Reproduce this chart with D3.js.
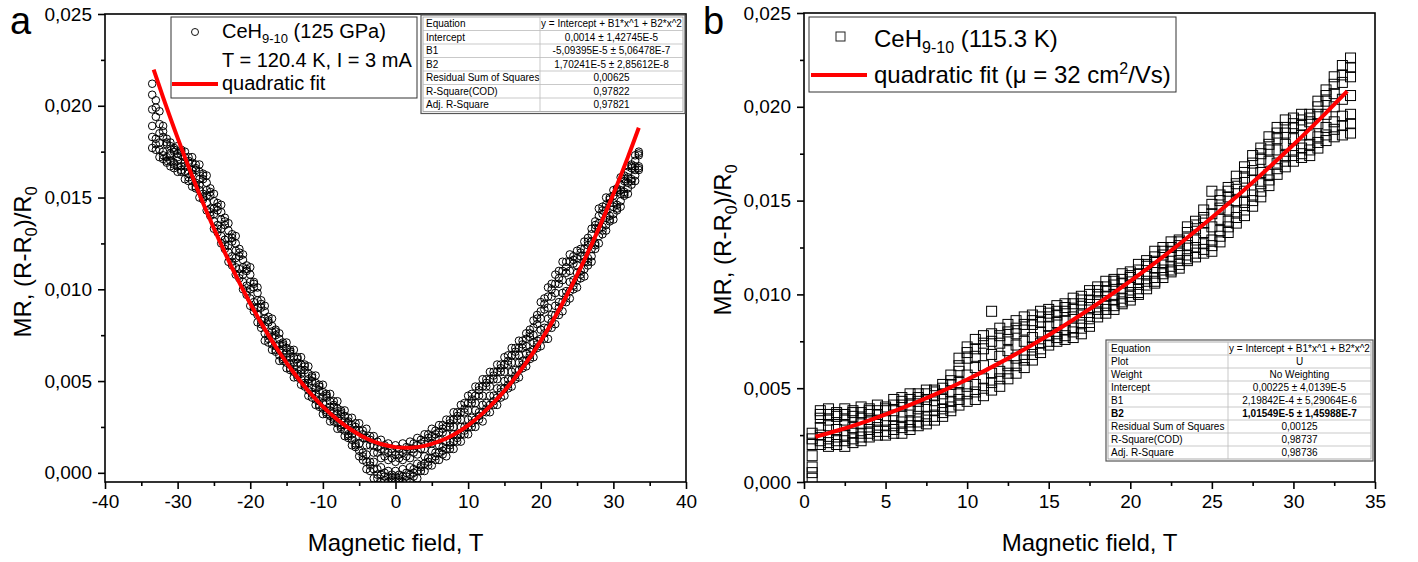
<!DOCTYPE html>
<html>
<head>
<meta charset="utf-8">
<script src="https://cdn.jsdelivr.net/npm/d3@7"></script>
<style>
  body { margin: 0; background: #fff; }
  svg { font-family: "Liberation Sans", Arial, sans-serif; }
</style>
</head>
<body>
<script>
// ---- data (MR values are in units of 1e-3) ----
const MR_UNIT = 1e-3;

// panel a: CeH9-10 at 125 GPa, field sweep -33.5..33.5 T (points read across the band)
const fieldA = [-33.5,-33,-32.5,-32,-31.5,-31,-30.5,-30,-29.5,-29,-28.5,-28,-27.5,-27,-26.5,-26,-25.5,-25,-24.5,-24,
  -23.5,-23,-22.5,-22,-21.5,-21,-20.5,-20,-19.5,-19,-18.5,-18,-17.5,-17,-16.5,-16,-15.5,-15,-14.5,-14,
  -13.5,-13,-12.5,-12,-11.5,-11,-10.5,-10,-9.5,-9,-8.5,-8,-7.5,-7,-6.5,-6,-5.5,-5,-4.5,-4,
  -3.5,-3,-2.5,-2,-1.5,-1,-0.5,0,0.5,1,1.5,2,2.5,3,3.5,4,4.5,5,5.5,6,
  6.5,7,7.5,8,8.5,9,9.5,10,10.5,11,11.5,12,12.5,13,13.5,14,14.5,15,15.5,16,
  16.5,17,17.5,18,18.5,19,19.5,20,20.5,21,21.5,22,22.5,23,23.5,24,24.5,25,25.5,26,
  26.5,27,27.5,28,28.5,29,29.5,30,30.5,31,31.5,32,32.5,33,33.5];
const mrA1 = [21.2,20.3,19.7,18.9,18.2,18.0,17.7,17.8,17.6,17.5, 17.2,17.2,16.8,16.8,16.3,16.2,15.5,15.2,14.7,14.6,
  13.9,13.6,13.0,12.9,12.2,11.9,11.3,11.2,10.4,10.1, 9.4,9.1,8.5,8.4,7.8,7.6,7.1,7.1,6.7,6.7,
  6.3,6.3,5.9,5.8,5.3,5.3,4.8,4.8,4.3,4.3, 3.9,3.9,3.4,3.4,3.0,3.0,2.7,2.7,2.3,2.4,
  2.0,2.0,1.7,1.8,1.5,1.6,1.3,1.5,1.3,1.6, 1.4,1.7,1.6,1.9,1.8,2.1,2.1,2.4,2.3,2.6,
  2.6,2.9,2.9,3.3,3.3,3.7,3.8,4.2,4.3,4.7, 4.7,5.1,5.1,5.5,5.5,5.9,5.9,6.3,6.4,6.8,
  6.8,7.2,7.2,7.6,7.8,8.3,8.6,9.3,9.5,10.1, 10.3,10.8,11.0,11.5,11.5,11.9,11.8,12.1,12.2,12.6,
  12.8,13.3,13.7,14.4,14.5,15.0,15.0,15.4,15.5,16.1, 16.2,16.7,16.8,17.3,17.5];
const mrA5 = [20.6,19.9,19.0,18.6,18.0,17.8,17.6,17.4,17.5,17.2, 17.0,16.9,16.6,16.4,16.2,15.8,15.3,14.8,14.5,14.2,
  13.7,13.2,12.8,12.5,12.0,11.6,11.1,10.8,10.3,9.8, 9.2,8.8,8.3,8.0,7.7,7.3,7.0,6.8,6.6,6.3,
  6.2,5.9,5.8,5.4,5.2,4.9,4.7,4.4,4.2,3.9, 3.7,3.5,3.3,3.1,2.8,2.6,2.5,2.3,2.1,1.9,
  1.8,1.5,1.4,1.3,1.2,1.1,1.1,1.0,1.0,1.1, 1.2,1.3,1.3,1.5,1.6,1.7,1.9,2.0,2.1,2.2,
  2.4,2.5,2.7,2.9,3.1,3.3,3.5,3.8,4.0,4.2, 4.5,4.7,4.9,5.1,5.3,5.5,5.7,5.9,6.1,6.4,
  6.6,6.8,7.0,7.3,7.6,7.9,8.4,8.8,9.2,9.6, 10.0,10.3,10.6,11.0,11.2,11.5,11.6,11.7,12.0,12.2,
  12.6,13.0,13.5,14.0,14.3,14.6,14.9,15.1,15.4,15.7, 16.0,16.4,16.7,17.0,17.4];
const mrA2 = [19.8,19.4,18.5,18.3,17.9,17.4,17.5,17.2,17.3,16.9, 16.9,16.5,16.5,16.0,16.0,15.4,15.1,14.4,14.3,13.8,
  13.5,12.8,12.6,12.1,11.8,11.2,11.0,10.4,10.1,9.4, 9.0,8.4,8.2,7.7,7.5,7.0,6.9,6.5,6.5,6.0,
  6.0,5.6,5.6,5.1,5.0,4.6,4.5,4.1,4.1,3.6, 3.6,3.2,3.2,2.8,2.7,2.3,2.3,2.0,1.9,1.5,
  1.5,1.1,1.1,0.8,0.9,0.7,0.8,0.6,0.8,0.7, 0.9,0.8,1.1,1.0,1.3,1.3,1.6,1.6,1.9,1.8,
  2.2,2.1,2.5,2.5,2.9,2.9,3.3,3.4,3.8,3.8, 4.2,4.2,4.7,4.7,5.1,5.1,5.5,5.5,5.9,6.0,
  6.4,6.4,6.8,6.9,7.4,7.5,8.1,8.4,8.9,9.0, 9.6,9.8,10.3,10.5,10.9,11.0,11.4,11.3,11.8,11.8,
  12.4,12.6,13.3,13.6,14.1,14.3,14.7,14.7,15.3,15.4, 15.9,16.1,16.6,16.7,17.3];
const mrA3 = [18.9,18.2,18.0,17.5,17.2,17.3,16.9,17.0,16.7,16.7, 16.3,16.3,15.8,15.7,15.2,15.1,14.4,14.1,13.5,13.3,
  12.7,12.4,11.8,11.7,11.1,10.8,10.2,10.0,9.3,9.0, 8.3,8.0,7.5,7.4,6.9,6.7,6.3,6.3,5.9,5.8,
  5.4,5.4,4.9,4.9,4.4,4.3,3.9,3.8,3.4,3.4, 3.0,3.0,2.6,2.6,2.1,2.1,1.6,1.6,1.1,1.0,
  0.6,0.6,0.2,0.3,0.0,0.1,-0.1,0.1,-0.1,0.2, 0.0,0.3,0.2,0.5,0.4,0.9,0.8,1.2,1.1,1.5,
  1.4,1.7,1.7,2.1,2.1,2.5,2.5,2.9,3.0,3.4, 3.3,3.7,3.8,4.2,4.2,4.6,4.6,5.0,5.1,5.5,
  5.6,6.0,6.1,6.5,6.6,7.1,7.2,7.8,7.9,8.4, 8.6,9.1,9.3,9.8,9.9,10.4,10.5,10.9,11.0,11.5,
  11.7,12.2,12.5,13.3,13.4,13.9,14.0,14.5,14.6,15.2, 15.3,15.8,16.0,16.5,16.7];
const mrA6 = [18.3,17.9,17.6,17.3,17.0,17.0,16.8,16.7,16.5,16.4, 16.1,15.9,15.6,15.4,15.0,14.7,14.2,13.7,13.3,12.9,
  12.4,12.0,11.5,11.2,10.8,10.4,9.9,9.5,9.0,8.6, 8.1,7.6,7.3,7.0,6.7,6.4,6.2,6.0,5.7,5.5,
  5.3,5.1,4.8,4.5,4.3,4.0,3.7,3.5,3.3,3.1, 2.9,2.7,2.5,2.3,2.0,1.8,1.5,1.2,0.9,0.6,
  0.4,0.2,-0.1,-0.1,-0.2,-0.2,-0.3,-0.2,-0.3,-0.2, -0.2,-0.1,0.0,0.1,0.3,0.5,0.6,0.8,0.9,1.1,
  1.2,1.3,1.5,1.7,1.9,2.1,2.3,2.5,2.7,2.9, 3.1,3.3,3.5,3.7,3.9,4.1,4.4,4.6,4.8,5.1,
  5.3,5.6,5.9,6.1,6.4,6.7,7.0,7.3,7.6,7.9, 8.2,8.6,9.0,9.3,9.6,9.9,10.2,10.5,10.8,11.1,
  11.5,11.8,12.4,12.9,13.2,13.5,13.8,14.1,14.4,14.8, 15.2,15.5,15.9,16.2,16.6];
const mrA4 = [17.7,17.6,17.2,17.1,16.9,16.7,16.6,16.4,16.4,16.0, 15.9,15.6,15.5,15.0,14.9,14.3,14.0,13.3,13.1,12.5,
  12.2,11.5,11.3,10.8,10.6,10.0,9.7,9.1,8.8,8.2, 7.9,7.2,7.1,6.7,6.6,6.1,6.1,5.7,5.6,5.2,
  5.2,4.8,4.7,4.2,4.1,3.7,3.6,3.2,3.2,2.8, 2.8,2.4,2.4,2.0,1.9,1.5,1.4,0.9,0.7,0.2,
  0.1,-0.3,-0.3,-0.5,-0.4,-0.5,-0.4,-0.5,-0.4,-0.5, -0.4,-0.5,-0.2,-0.3,0.1,0.1,0.4,0.4,0.7,0.7,
  1.0,0.9,1.3,1.3,1.7,1.7,2.1,2.1,2.5,2.5, 2.9,2.8,3.3,3.3,3.7,3.7,4.1,4.2,4.6,4.7,
  5.1,5.2,5.7,5.8,6.2,6.3,6.8,6.9,7.3,7.3, 7.9,8.1,8.6,8.8,9.3,9.5,10.0,10.1,10.6,10.7,
  11.3,11.5,12.2,12.5,13.0,13.2,13.7,13.8,14.3,14.5, 15.1,15.2,15.7,15.9,16.5];

// quadratic fit, panel a
const fitAField = [-33.3,-32,-30,-28,-26,-24,-22,-20,-18,-16,-14,-12,-10,-8,-6,-4,-2,0,2,4,6,8,10,12,14,16,18,20,22,24,26,28,30,32,33.5];
const fitAMR = [21.97,20.46,18.25,16.17,14.23,12.43,10.76,9.23,7.83,6.57,5.45,4.46,3.61,2.90,2.32,1.87,1.57,1.40,1.37,1.47,
  1.71,2.08,2.59,3.24,4.03,4.95,6.00,7.19,8.52,9.99,11.59,13.32,15.19,17.20,18.80];

// panel b: CeH9-10 at 115.3 K, field 0.5..33.5 T
const fieldB = [0.5,1,1.5,2,2.5,3,3.5,4,4.5,5,5.5,6,6.5,7,7.5,8,8.5,9,9.5,10,
  10.5,11,11.5,12,12.5,13,13.5,14,14.5,15,15.5,16,16.5,17,17.5,18,18.5,19,19.5,20,
  20.5,21,21.5,22,22.5,23,23.5,24,24.5,25,25.5,26,26.5,27,27.5,28,28.5,29,29.5,30,
  30.5,31,31.5,32,32.5,33,33.5];
const mrB1 = [2.6,3.8,3.9,3.7,3.9,3.8,4.0,3.9,4.1,4.0, 4.4,4.5,4.7,4.7,4.9,4.9,5.2,5.7,6.6,7.2,
  7.6,7.8,9.1,8.2,8.4,8.6,8.8,8.9,9.1,9.2, 9.4,9.5,9.8,9.9,10.2,10.4,10.7,10.8,11.1,11.2,
  11.6,11.8,12.3,12.5,12.8,12.9,13.6,13.9,14.5,15.5, 15.3,15.7,16.3,16.8,17.4,17.8,18.4,18.9,19.3,19.4,
  19.6,19.6,20.3,20.9,21.6,22.2,22.6];
const mrB6 = [2.3,3.6,3.6,3.6,3.6,3.7,3.7,3.8,3.8,3.9, 4.1,4.3,4.4,4.5,4.7,4.8,5.0,5.4,6.2,6.9,
  7.1,7.4,7.9,7.8,8.0,8.2,8.4,8.6,8.8,9.0, 9.1,9.3,9.5,9.7,10.0,10.2,10.4,10.7,10.8,11.0,
  11.3,11.6,12.0,12.3,12.5,12.8,13.3,13.7,14.1,14.8, 15.0,15.5,15.9,16.5,17.0,17.5,18.0,18.6,18.9,19.1,
  19.3,19.4,20.0,20.6,21.2,21.7,22.1];
const mrB2 = [2.0,3.4,3.3,3.5,3.3,3.5,3.4,3.6,3.6,3.8, 3.8,4.1,4.1,4.3,4.4,4.6,4.7,5.2,5.9,6.6,
  6.7,7.1,7.5,7.4,7.6,7.9,8.1,8.4,8.5,8.8, 8.9,9.1,9.2,9.5,9.7,10.0,10.2,10.5,10.6,10.9,
  11.1,11.5,11.7,12.1,12.3,12.6,13.0,13.5,13.8,14.3, 14.6,15.2,15.6,16.2,16.6,17.2,17.7,18.3,18.6,18.9,
  19.0,19.2,19.6,20.3,20.7,21.3,21.6];
const mrB3 = [1.4,2.9,3.0,2.8,3.0,2.9,3.1,3.2,3.3,3.3, 3.5,3.5,3.8,3.9,4.0,4.1,4.4,4.8,5.3,5.7,
  6.1,6.2,6.8,6.7,7.0,7.3,7.5,7.7,8.0,8.3, 8.5,8.6,8.8,8.9,9.3,9.6,9.9,10.0,10.3,10.5,
  10.8,11.1,11.4,11.7,12.0,12.2,12.6,12.9,13.3,13.6, 14.0,14.5,15.0,15.5,16.1,16.5,17.1,17.7,18.0,18.3,
  18.5,18.5,19.1,19.6,20.0,20.4,20.6];
const mrB4 = [0.8,2.5,2.3,2.4,2.5,2.6,2.6,2.8,2.9,3.0, 3.0,3.2,3.2,3.5,3.5,3.8,3.9,4.3,4.7,5.1,
  5.2,5.5,5.8,5.9,6.2,6.6,6.8,7.2,7.4,7.8, 7.9,8.1,8.2,8.5,8.7,9.2,9.4,9.7,9.8,10.1,
  10.3,10.7,10.9,11.3,11.5,11.8,12.1,12.5,12.7,12.9, 13.4,13.9,14.4,14.9,15.3,15.9,16.4,17.0,17.4,17.7,
  17.8,18.0,18.4,18.9,19.2,19.5,19.6];
const mrB7 = [0.5,2.2,2.1,2.2,2.2,2.3,2.4,2.6,2.7,2.7, 2.8,2.9,3.0,3.2,3.3,3.5,3.7,4.0,4.4,4.7,
  4.8,5.0,5.3,5.5,5.8,6.2,6.5,6.8,7.1,7.5, 7.7,7.8,8.0,8.2,8.5,9.0,9.2,9.4,9.6,9.9,
  10.1,10.5,10.7,11.1,11.3,11.6,11.9,12.2,12.4,12.6, 13.1,13.6,14.1,14.5,15.0,15.5,16.1,16.7,17.1,17.4,
  17.5,17.7,18.1,18.5,18.8,19.0,19.1];
const mrB5 = [0.2,2.0,1.9,2.0,1.9,2.1,2.2,2.4,2.5,2.5, 2.6,2.6,2.8,3.0,3.1,3.3,3.5,3.8,4.1,4.3,
  4.4,4.6,4.9,5.1,5.5,5.8,6.1,6.5,6.9,7.3, 7.5,7.6,7.7,7.9,8.3,8.8,9.0,9.2,9.5,9.7,
  10.0,10.3,10.6,10.9,11.2,11.4,11.8,12.0,12.2,12.3, 12.8,13.3,13.8,14.2,14.7,15.2,15.8,16.4,16.8,17.1,
  17.3,17.4,17.8,18.2,18.4,18.5,18.6];

const fitBField = [0.7,2,4,6,8,10,12,14,16,18,20,22,24,26,28,30,32,33.3];
const fitBMR = [2.41,2.73,3.29,3.94,4.66,5.46,6.35,7.32,8.37,9.50,10.71,12.00,13.38,14.83,16.37,17.98,19.68,20.83];

// axis ticks
const yTicks = [0, 0.005, 0.010, 0.015, 0.020, 0.025];
const yMinor = [0.0025, 0.0075, 0.0125, 0.0175, 0.0225];
const xTicksA = [-40, -30, -20, -10, 0, 10, 20, 30, 40];
const xMinorA = [-35, -25, -15, -5, 5, 15, 25, 35];
const xTicksB = [0, 5, 10, 15, 20, 25, 30, 35];
const xMinorB = [2.5, 7.5, 12.5, 17.5, 22.5, 27.5, 32.5];

// fit result tables
const tableARows = [
  ["Equation", "y = Intercept + B1*x^1 + B2*x^2"],
  ["Intercept", "0,0014 \u00b1 1,42745E-5"],
  ["B1", "-5,09395E-5 \u00b1 5,06478E-7"],
  ["B2", "1,70241E-5 \u00b1 2,85612E-8"],
  ["Residual Sum of Squares", "0,00625"],
  ["R-Square(COD)", "0,97822"],
  ["Adj. R-Square", "0,97821"]
];
const tableBRows = [
  ["Equation", "y = Intercept + B1*x^1 + B2*x^2"],
  ["Plot", "U"],
  ["Weight", "No Weighting"],
  ["Intercept", "0,00225 \u00b1 4,0139E-5"],
  ["B1", "2,19842E-4 \u00b1 5,29064E-6"],
  ["B2", "1,01549E-5 \u00b1 1,45988E-7"],
  ["Residual Sum of Squares", "0,00125"],
  ["R-Square(COD)", "0,98737"],
  ["Adj. R-Square", "0,98736"]
];

// ---- drawing ----
const svg = d3.select("body").append("svg")
    .attr("width", 1418)
    .attr("height", 562);

const commaFmt = d => d3.format(".3f")(d).replace(".", ",");

function drawPanel(opt) {
    const x = d3.scaleLinear().domain(opt.xDomain).range([opt.left, opt.right]);
    const y = d3.scaleLinear().domain(opt.yDomain).range([opt.bottom, opt.top]);
    const g = svg.append("g");

    g.append("clipPath").attr("id", opt.id + "-clip")
        .append("rect")
        .attr("x", opt.left).attr("y", opt.top)
        .attr("width", opt.right - opt.left)
        .attr("height", opt.bottom - opt.top);

    // minor ticks first, then major ones with labels
    g.append("g").attr("transform", `translate(0,${opt.bottom})`)
        .call(d3.axisBottom(x).tickValues(opt.xMinor).tickSize(4).tickFormat(""));
    g.append("g").attr("transform", `translate(${opt.left},0)`)
        .call(d3.axisLeft(y).tickValues(yMinor).tickSize(4).tickFormat(""));
    g.append("g").attr("transform", `translate(0,${opt.bottom})`)
        .call(d3.axisBottom(x).tickValues(opt.xTicks).tickSize(7).tickPadding(6).tickFormat(d => String(d)));
    g.append("g").attr("transform", `translate(${opt.left},0)`)
        .call(d3.axisLeft(y).tickValues(yTicks).tickSize(7).tickPadding(6).tickFormat(commaFmt));

    g.selectAll(".domain").remove();
    g.selectAll(".tick line").attr("stroke", "#000").attr("stroke-width", 1.6);
    g.selectAll(".tick text")
        .attr("fill", "#000")
        .style("font-size", "19px")
        .style("font-family", '"Liberation Sans", Arial, sans-serif');

    // data markers (hollow, so overlaps build up the dark band)
    const points = opt.series.flatMap(s => opt.field.map((f, i) => ({ f, v: s[i] * MR_UNIT })));
    const marks = g.append("g").attr("clip-path", `url(#${opt.id}-clip)`);
    if (opt.marker === "circle") {
        marks.selectAll("circle")
            .data(points)
            .enter().append("circle")
            .attr("cx", d => x(d.f))
            .attr("cy", d => y(d.v))
            .attr("r", 3.8)
            .attr("fill", "none")
            .attr("stroke", "#000")
            .attr("stroke-width", 1);
    } else {
        marks.selectAll("rect")
            .data(points)
            .enter().append("rect")
            .attr("x", d => x(d.f) - 5)
            .attr("y", d => y(d.v) - 5)
            .attr("width", 10)
            .attr("height", 10)
            .attr("fill", "none")
            .attr("stroke", "#000")
            .attr("stroke-width", 1);
    }

    // fit curve
    const line = d3.line()
        .x((d, i) => x(opt.fitField[i]))
        .y(d => y(d * MR_UNIT))
        .curve(d3.curveCatmullRom);
    marks.append("path")
        .attr("d", line(opt.fitMR))
        .attr("fill", "none")
        .attr("stroke", "#ff0000")
        .attr("stroke-width", 4);

    // frame
    g.append("rect")
        .attr("x", opt.left).attr("y", opt.top)
        .attr("width", opt.right - opt.left)
        .attr("height", opt.bottom - opt.top)
        .attr("fill", "none")
        .attr("stroke", "#000")
        .attr("stroke-width", 1.6);

    // axis titles
    g.append("text")
        .attr("x", (opt.left + opt.right) / 2)
        .attr("y", 551)
        .attr("text-anchor", "middle")
        .style("font-size", "24px")
        .text("Magnetic field, T");

    const yt = g.append("text")
        .attr("transform", `translate(${opt.yTitleX},${opt.yTitleY}) rotate(-90)`)
        .attr("text-anchor", "middle")
        .style("font-size", "24px");
    yt.append("tspan").text("MR, (R-R");
    yt.append("tspan").attr("dy", 6).style("font-size", "16px").text("0");
    yt.append("tspan").attr("dy", -6).text(")/R");
    yt.append("tspan").attr("dy", 6).style("font-size", "16px").text("0");

    // panel letter
    g.append("text")
        .attr("x", opt.letterX).attr("y", 34)
        .style("font-size", "38px")
        .text(opt.letter);
}

function drawTable(rows, x0, y0, w1, w2, rowH, boldRow) {
    const g = svg.append("g").style("font-size", "10px");
    const w = w1 + w2, h = rowH * rows.length;
    g.append("rect")
        .attr("x", x0 - 2).attr("y", y0 - 2)
        .attr("width", w + 4).attr("height", h + 4)
        .attr("fill", "#fff").attr("stroke", "#555").attr("stroke-width", 1.2);
    g.append("rect")
        .attr("x", x0).attr("y", y0)
        .attr("width", w).attr("height", h)
        .attr("fill", "none").attr("stroke", "#999").attr("stroke-width", 0.8);

    rows.forEach((r, i) => {
        const top = y0 + i * rowH;
        if (i > 0) {
            g.append("line")
                .attr("x1", x0).attr("x2", x0 + w)
                .attr("y1", top).attr("y2", top)
                .attr("stroke", "#bbb").attr("stroke-width", 0.8);
        }
        const weight = i === boldRow ? "bold" : "normal";
        g.append("text")
            .attr("x", x0 + 3).attr("y", top + rowH - 3.5)
            .style("font-weight", weight)
            .text(r[0]);
        g.append("text")
            .attr("x", x0 + w1 + w2 / 2).attr("y", top + rowH - 3.5)
            .attr("text-anchor", "middle")
            .style("font-weight", weight)
            .text(r[1]);
    });
    g.append("line")
        .attr("x1", x0 + w1).attr("x2", x0 + w1)
        .attr("y1", y0).attr("y2", y0 + h)
        .attr("stroke", "#bbb").attr("stroke-width", 0.8);
}

drawPanel({
    id: "pa", letter: "a", letterX: 10,
    left: 105, right: 686, top: 14, bottom: 482,
    xDomain: [-40, 40], yDomain: [-0.0005, 0.025],
    xTicks: xTicksA, xMinor: xMinorA,
    field: fieldA, series: [mrA1, mrA5, mrA2, mrA3, mrA6, mrA4], marker: "circle",
    fitField: fitAField, fitMR: fitAMR,
    yTitleX: 31, yTitleY: 262
});

drawPanel({
    id: "pb", letter: "b", letterX: 703,
    left: 804, right: 1375, top: 13, bottom: 482,
    xDomain: [0, 35], yDomain: [0, 0.025],
    xTicks: xTicksB, xMinor: xMinorB,
    field: fieldB, series: [mrB1, mrB6, mrB2, mrB3, mrB4, mrB7, mrB5], marker: "square",
    fitField: fitBField, fitMR: fitBMR,
    yTitleX: 731, yTitleY: 240
});

drawTable(tableARows, 423, 17, 117, 143, 13.5, -1);
drawTable(tableBRows, 1108, 342, 120, 143, 13, 5);

// legend a
const legA = svg.append("g").style("font-size", "20px");
legA.append("rect")
    .attr("x", 171).attr("y", 17).attr("width", 246).attr("height", 81)
    .attr("fill", "#fff").attr("stroke", "#333").attr("stroke-width", 1);
legA.append("circle")
    .attr("cx", 195).attr("cy", 32).attr("r", 3.5)
    .attr("fill", "#fff").attr("stroke", "#111");
const la1 = legA.append("text").attr("x", 222).attr("y", 38);
la1.append("tspan").text("CeH");
la1.append("tspan").attr("dy", 5).style("font-size", "13px").text("9-10");
la1.append("tspan").attr("dy", -5).text(" (125 GPa)");
legA.append("text").attr("x", 222).attr("y", 67).text("T = 120.4 K, I = 3 mA");
legA.append("line")
    .attr("x1", 172).attr("x2", 218).attr("y1", 84).attr("y2", 84)
    .attr("stroke", "#ff0000").attr("stroke-width", 4);
legA.append("text").attr("x", 222).attr("y", 90).text("quadratic fit");

// legend b
const legB = svg.append("g").style("font-size", "24px");
legB.append("rect")
    .attr("x", 809).attr("y", 17).attr("width", 367).attr("height", 75)
    .attr("fill", "#fff").attr("stroke", "#333").attr("stroke-width", 1);
legB.append("rect")
    .attr("x", 836).attr("y", 32).attr("width", 9).attr("height", 9)
    .attr("fill", "none").attr("stroke", "#222");
const lb1 = legB.append("text").attr("x", 874).attr("y", 47);
lb1.append("tspan").text("CeH");
lb1.append("tspan").attr("dy", 6).style("font-size", "16px").text("9-10");
lb1.append("tspan").attr("dy", -6).text(" (115.3 K)");
legB.append("line")
    .attr("x1", 811).attr("x2", 867).attr("y1", 75).attr("y2", 75)
    .attr("stroke", "#ff0000").attr("stroke-width", 4);
const lb2 = legB.append("text").attr("x", 874).attr("y", 83);
lb2.append("tspan").text("quadratic fit (\u03bc = 32 cm");
lb2.append("tspan").attr("dy", -9).style("font-size", "16px").text("2");
lb2.append("tspan").attr("dy", 9).text("/Vs)");
</script>
</body>
</html>
